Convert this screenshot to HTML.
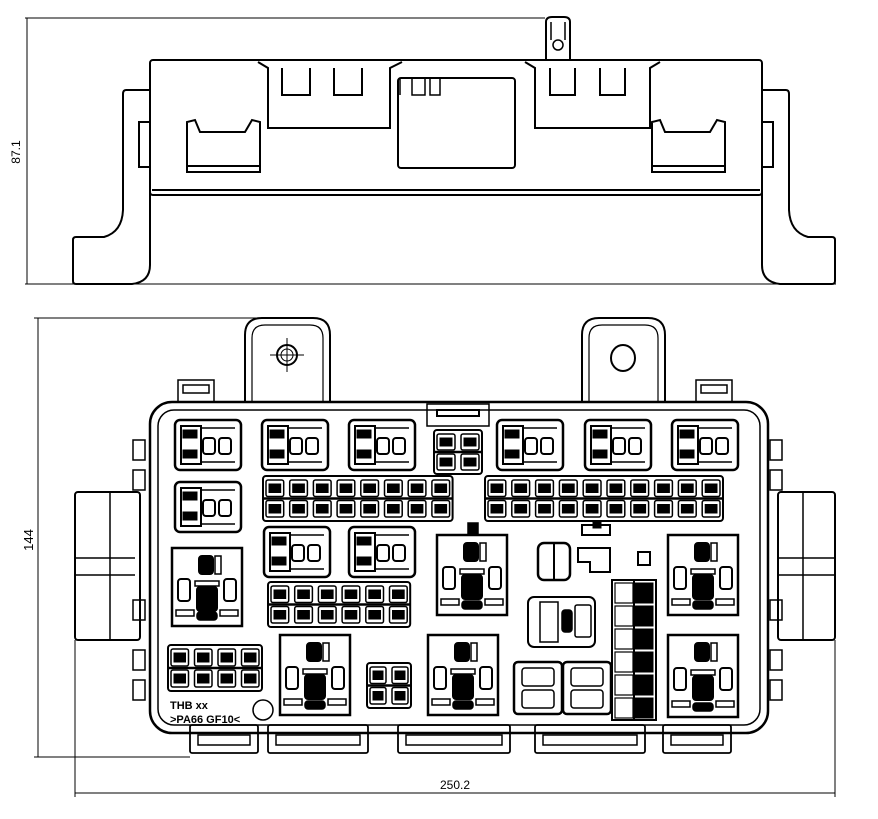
<!DOCTYPE html>
<html><head><meta charset="utf-8"><style>
html,body{margin:0;padding:0;background:#fff}
svg{display:block}
text{font-family:"Liberation Sans",sans-serif}
</style></head><body>
<svg id="s" width="878" height="819" viewBox="0 0 878 819" xmlns="http://www.w3.org/2000/svg" fill="none" stroke="#000" stroke-width="1.5">
<!-- TOP VIEW -->
<line x1="25" y1="18" x2="545" y2="18" stroke-width="1"/>
<line x1="25" y1="284" x2="836" y2="284" stroke-width="1"/>
<line x1="27" y1="18" x2="27" y2="284" stroke-width="1"/>
<text x="20" y="152" font-size="12" fill="#000" stroke="none" transform="rotate(-90 20 152)" text-anchor="middle">87.1</text>
<rect x="150" y="60" width="612" height="135" rx="3" stroke-width="2"/>
<line x1="152" y1="190" x2="760" y2="190" stroke-width="2"/>
<path d="M150 90 H126 Q123 90 123 94 V210 Q122 232 104 237 H76 Q73 237 73 240 V281 Q73 284 76 284 H132 Q150 282 150 265 Z" stroke-width="2"/>
<path d="M762 90 H786 Q789 90 789 94 V210 Q790 232 808 237 H832 Q835 237 835 240 V281 Q835 284 832 284 H780 Q762 282 762 265 Z" stroke-width="2"/>
<rect x="139" y="122" width="11" height="45" stroke-width="2"/>
<rect x="762" y="122" width="11" height="45" stroke-width="2"/>
<path d="M258 62 L268 68 V128 H390 V68 L402 62" stroke-width="2"/>
<path d="M282 68 V95 H310 V68 M334 68 V95 H362 V68" stroke-width="2"/>
<rect x="398" y="78" width="117" height="90" rx="3" stroke-width="2"/>
<path d="M400 78 V95 M412 78 V95 H425 V78 M430 78 V95 H440 V78" stroke-width="1.5"/>
<path d="M525 62 L535 68 V128 H650 V68 L660 62" stroke-width="2"/>
<path d="M550 68 V95 H575 V68 M600 68 V95 H625 V68" stroke-width="2"/>
<path d="M187 172 V122 L195 120 L200 132 H245 L252 120 L260 122 V172 Z M187 166 H260" stroke-width="2"/>
<path d="M652 172 V122 L660 120 L665 132 H710 L717 120 L725 122 V172 Z M652 166 H725" stroke-width="2"/>
<path d="M546 60 V22 Q546 17 552 17 H564 Q570 17 570 22 V60" stroke-width="2"/>
<circle cx="558" cy="45" r="5" stroke-width="1.5"/>
<path d="M551 22 V40 M565 22 V40" stroke-width="1.5"/>
<!-- BOTTOM VIEW dims -->
<line x1="34" y1="318" x2="300" y2="318" stroke-width="1"/>
<line x1="34" y1="757" x2="190" y2="757" stroke-width="1"/>
<line x1="38" y1="318" x2="38" y2="757" stroke-width="1"/>
<text x="33" y="540" font-size="13" fill="#000" stroke="none" transform="rotate(-90 33 540)" text-anchor="middle">144</text>
<line x1="75" y1="640" x2="75" y2="797" stroke-width="1"/>
<line x1="835" y1="640" x2="835" y2="797" stroke-width="1"/>
<line x1="75" y1="793" x2="835" y2="793" stroke-width="1"/>
<text x="455" y="789" font-size="12" fill="#000" stroke="none" text-anchor="middle">250.2</text>
<!-- ears -->
<path d="M245 402 V335 Q245 318 262 318 H313 Q330 318 330 335 V402" stroke-width="2"/>
<path d="M252 402 V338 Q252 325 265 325 H310 Q323 325 323 338 V402" stroke-width="1.2"/>
<circle cx="287" cy="355" r="10" stroke-width="2"/><circle cx="287" cy="355" r="6" stroke-width="1"/>
<path d="M270 355 H304 M287 338 V372" stroke-width="1"/>
<path d="M582 402 V335 Q582 318 599 318 H648 Q665 318 665 335 V402" stroke-width="2"/>
<path d="M589 402 V338 Q589 325 602 325 H645 Q658 325 658 338 V402" stroke-width="1.2"/>
<ellipse cx="623" cy="358" rx="12" ry="13" stroke-width="2"/>
<!-- clips top -->
<rect x="178" y="380" width="36" height="22" stroke-width="1.5"/><rect x="183" y="385" width="26" height="8"/>
<rect x="696" y="380" width="36" height="22" stroke-width="1.5"/><rect x="701" y="385" width="26" height="8"/>
<!-- body -->
<rect x="150" y="402" width="618" height="331" rx="22" stroke-width="2.5"/>
<rect x="158" y="410" width="602" height="315" rx="16" stroke-width="1.5"/>
<rect x="427" y="404" width="62" height="22" stroke-width="1.5"/>
<rect x="437" y="410" width="42" height="6" stroke-width="2"/>
<!-- side connectors -->
<rect x="75" y="492" width="65" height="148" rx="3" stroke-width="2"/>
<path d="M75 558 H135 M75 575 H135 M110 492 V640" stroke-width="1.5"/>
<rect x="778" y="492" width="57" height="148" rx="3" stroke-width="2"/>
<path d="M778 558 H835 M778 575 H835 M803 492 V640" stroke-width="1.5"/>
<g id="g"></g>
<text x="170" y="709" font-size="11" font-weight="bold" fill="#000" stroke="none">THB  xx</text>
<text x="170" y="723" font-size="11" font-weight="bold" fill="#000" stroke="none">&gt;PA66 GF10&lt;</text>
<circle cx="263" cy="710" r="10" stroke-width="1.5"/>
</svg>
<script>
var g=document.getElementById('g'),h='';
function R(x,y,w,hh,sw,rx,f){h+='<rect x="'+x+'" y="'+y+'" width="'+w+'" height="'+hh+'" rx="'+(rx||0)+'" stroke-width="'+(sw||1.5)+'"'+(f?' fill="#000"':'')+'/>';}
function relay(x,y){R(x,y,66,50,2.5,5);R(x+6,y+6,20,38,2);R(x+8,y+10,14,8,1,0,1);R(x+8,y+30,14,8,1,0,1);R(x+28,y+18,12,16,2,3);R(x+44,y+18,12,16,2,3);h+='<path d="M'+(x+26)+' '+(y+8)+'H'+(x+60)+'M'+(x+26)+' '+(y+42)+'H'+(x+60)+'" stroke-width="1.5"/>';}
[[175,420],[262,420],[349,420],[497,420],[585,420],[672,420],[175,482],[264,527],[349,527]].forEach(function(p){relay(p[0],p[1]);});
function fuses(x,y,n,w,hh){R(x,y,n*w,hh,2,3);for(var i=0;i<n;i++){var cx=x+i*w;R(cx+3,y+4,w-6,hh/2-6,1.5,2);R(cx+3,y+hh/2+2,w-6,hh/2-6,1.5,2);R(cx+6,y+8,w-12,hh/2-14,1,0,1);R(cx+6,y+hh/2+6,w-12,hh/2-14,1,0,1);}
 h+='<line x1="'+x+'" y1="'+(y+hh/2)+'" x2="'+(x+n*w)+'" y2="'+(y+hh/2)+'" stroke-width="2.5"/>';}
fuses(263,476,8,23.7,45);fuses(485,476,10,23.8,45);fuses(268,582,6,23.7,45);fuses(434,430,2,24,44);fuses(168,645,4,23.5,46);fuses(367,663,2,22,45);
function big(x,y,w,hh){R(x,y,w,hh,2.5);var c=x+w/2;R(c-8,y+8,14,18,2,3,1);R(c+8,y+8,6,18,1.5);R(x+6,y+hh/2-8,12,22,2,3);R(x+w-18,y+hh/2-8,12,22,2,3);R(c-10,y+hh/2,20,24,2,3,1);R(c-12,y+hh/2-6,24,5,1.5);R(c-10,y+hh-14,20,8,1.5,3,1);R(x+4,y+hh-16,18,6,1.5);R(x+w-22,y+hh-16,18,6,1.5);}
big(172,548,70,78);big(437,535,70,80);big(668,535,70,80);big(280,635,70,80);big(428,635,70,80);big(668,635,70,82);
R(468,523,10,12,1.5,0,1);
R(612,580,44,140,2);for(var i=0;i<6;i++){R(615,583+i*23,18,20,1.2);R(634,583+i*23,19,20,1,0,1);}
h+='<line x1="634" y1="580" x2="634" y2="720" stroke-width="2"/>';
R(528,597,67,50,2,6);R(540,602,18,40,1.5);R(562,610,10,22,1.5,3,1);R(575,605,16,32,1.5,2);
R(514,662,48,52,2.5,4);R(563,662,48,52,2.5,4);R(522,668,32,18,1.5,3);R(522,690,32,18,1.5,3);R(571,668,32,18,1.5,3);R(571,690,32,18,1.5,3);
R(538,543,32,37,2.5,6);h+='<line x1="554" y1="543" x2="554" y2="580" stroke-width="2"/>';
h+='<path d="M578 548 H610 V572 H590 V562 H578 Z" stroke-width="2"/>';R(638,552,12,13,2);R(582,525,28,10,2);R(593,522,8,6,1,0,1);
[[190,725,68],[268,725,100],[398,725,112],[535,725,110],[663,725,68]].forEach(function(p){R(p[0],p[1],p[2],28,1.8,2);R(p[0]+8,p[1]+10,p[2]-16,10,1.5);});
[[133,440],[133,470],[133,600],[133,650],[133,680],[770,440],[770,470],[770,600],[770,650],[770,680]].forEach(function(p){R(p[0],p[1],12,20,1.5);});
g.innerHTML=h;
</script>
</body></html>
